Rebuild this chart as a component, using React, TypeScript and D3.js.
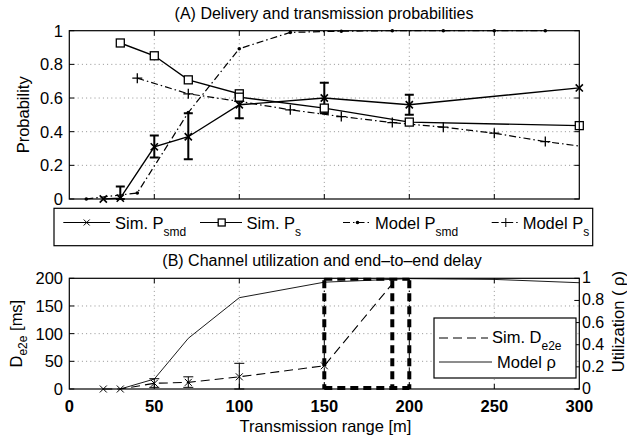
import React from "react";
import * as d3 from "d3";

// ---------- data ----------
const xTicks = [0, 50, 100, 150, 200, 250, 300];
const xGrid = [50, 100, 150, 200, 250];
const probTicks = [0, 0.2, 0.4, 0.6, 0.8, 1];
const delayTicks = [0, 50, 100, 150, 200];
const utilTicks = [0, 0.2, 0.4, 0.6, 0.8, 1];

// Panel A
const simPsmdX = [20, 30, 50, 70, 100, 150, 200, 300];
const simPsmd = [0, 0.005, 0.31, 0.37, 0.56, 0.6, 0.56, 0.66];
const simPsmdLo = [NaN, 0, 0.246, 0.236, 0.48, 0.51, 0.5, NaN];
const simPsmdHi = [NaN, 0.075, 0.377, 0.51, 0.625, 0.69, 0.62, NaN];

const simPsX = [30, 50, 70, 100, 100, 150, 200, 300];
const simPs = [0.927, 0.851, 0.708, 0.625, 0.605, 0.54, 0.457, 0.436];

const modelPsmdX = [10, 40, 70, 100, 130, 160, 190, 220, 250, 280];
const modelPsmd = [0, 0.036, 0.514, 0.893, 0.99, 0.997, 1, 1, 1, 1];

const modelPsX = [40, 70, 100, 130, 160, 190, 220, 250, 280, 300];
const modelPs = [0.718, 0.625, 0.58, 0.53, 0.49, 0.454, 0.427, 0.391, 0.341, 0.315];

// Panel B
const simDX = [20, 30, 50, 70, 100, 150, 190];
const simD = [0, 0, 10.3, 12, 22, 42, 190];
const simDLo = [NaN, NaN, 3, 3, 0, NaN, NaN];
const simDHi = [NaN, NaN, 18.6, 22, 46.4, NaN, NaN];

const boxX = [150, 190, 200];
const boxRange = [0, 200];

const rhoX = [30, 50, 70, 100, 150, 200, 250, 300];
const rho = [0, 0.09, 0.458, 0.825, 0.965, 0.997, 0.99, 0.96];

// ---------- layout ----------
const W = 627, H = 436;
const L = 69.3, R = 579.3;
const A_T = 30.7, A_B = 199;
const B_T = 278.3, B_B = 389;
const FONT = "'Liberation Sans', Arial, Helvetica, sans-serif";

const x = d3.scaleLinear().domain([0, 300]).range([L, R]);
const yA = d3.scaleLinear().domain([0, 1]).range([A_B, A_T]);
const yB = d3.scaleLinear().domain([0, 200]).range([B_B, B_T]);
const yR = d3.scaleLinear().domain([0, 1]).range([B_B, B_T]);

const GRID = { stroke: "#777", strokeWidth: 0.8, strokeDasharray: "1 3.2" };
const DASHDOT = "7 3 1.5 3";

function XMark({ cx, cy, s = 3.6, w = 1.2 }: any) {
  return (
    <path d={`M${cx - s},${cy - s}L${cx + s},${cy + s}M${cx - s},${cy + s}L${cx + s},${cy - s}`} stroke="#000" strokeWidth={w} fill="none" />
  );
}
function Square({ cx, cy, s = 4 }: any) {
  return <rect x={cx - s} y={cy - s} width={2 * s} height={2 * s} fill="#fff" stroke="#000" strokeWidth={1.3} />;
}
function Plus({ cx, cy, s = 5, w = 1.3 }: any) {
  return <path d={`M${cx - s},${cy}L${cx + s},${cy}M${cx},${cy - s}L${cx},${cy + s}`} stroke="#000" strokeWidth={w} fill="none" />;
}
function Dot({ cx, cy }: any) {
  return <circle cx={cx} cy={cy} r={1.8} fill="#000" />;
}

function ErrBars({ xs, lo, hi, ys, w, cap }: any) {
  return (
    <g stroke="#000" strokeWidth={w} fill="none">
      {xs.map((xv: number, i: number) => {
        if (isNaN(lo[i]) || isNaN(hi[i])) return null;
        const px = x(xv);
        const y1 = ys(lo[i]);
        const y2 = ys(hi[i]);
        return (
          <path key={i} d={`M${px},${y1}L${px},${y2}M${px - cap},${y1}L${px + cap},${y1}M${px - cap},${y2}L${px + cap},${y2}`} />
        );
      })}
    </g>
  );
}

export default function App() {
  const lineA = (xs: number[], ys: number[]) =>
    d3.line<number>().x((_, i) => x(xs[i])).y((v) => yA(v))(ys) as string;
  const lineB = (xs: number[], ys: number[], sc: any) =>
    d3.line<number>().x((_, i) => x(xs[i])).y((v) => sc(v))(ys) as string;

  const tickLen = 5;

  const frame = (T: number, B: number) => (
    <rect x={L} y={T} width={R - L} height={B - T} fill="none" stroke="#000" strokeWidth={1.2} />
  );

  return (
    <svg width={W} height={H} style={{ position: "absolute", left: 0, top: 0, background: "#fff" }} fontFamily={FONT}>
      <defs>
        <clipPath id="clipA"><rect x={L} y={A_T - 3} width={R - L} height={A_B - A_T + 6} /></clipPath>
        <clipPath id="clipB"><rect x={L - 3} y={B_T - 3} width={R - L + 6} height={B_B - B_T + 6} /></clipPath>
      </defs>
      <rect x={0} y={0} width={W} height={H} fill="#fff" />

      {/* ================= PANEL A ================= */}
      <text x={324} y={19} fontSize={16} textAnchor="middle">(A) Delivery and transmission probabilities</text>
      {xGrid.map((t) => <line key={"ga" + t} x1={x(t)} x2={x(t)} y1={A_T} y2={A_B} {...GRID} />)}
      {probTicks.slice(1, -1).map((t) => <line key={"gya" + t} x1={L} x2={R} y1={yA(t)} y2={yA(t)} {...GRID} />)}
      <g stroke="#000" strokeWidth={1}>
        {xGrid.map((t) => (
          <g key={"ta" + t}>
            <line x1={x(t)} x2={x(t)} y1={A_T} y2={A_T + tickLen} />
            <line x1={x(t)} x2={x(t)} y1={A_B} y2={A_B - tickLen} />
          </g>
        ))}
        {probTicks.map((t) => (
          <g key={"tya" + t}>
            <line x1={L} x2={L + tickLen} y1={yA(t)} y2={yA(t)} />
            <line x1={R} x2={R - tickLen} y1={yA(t)} y2={yA(t)} />
          </g>
        ))}
      </g>
      {probTicks.map((t) => (
        <text key={"la" + t} x={63} y={yA(t) + 6} fontSize={16.5} textAnchor="end">{d3.format("~g")(t)}</text>
      ))}
      <text transform={`translate(29,${(A_T + A_B) / 2}) rotate(-90)`} fontSize={16.5} textAnchor="middle">Probability</text>

      <g clipPath="url(#clipA)" fill="none" stroke="#000">
        <path d={lineA(modelPsmdX, modelPsmd)} strokeWidth={1.2} strokeDasharray={DASHDOT} />
        <path d={lineA(modelPsX, modelPs)} strokeWidth={1.2} strokeDasharray={DASHDOT} />
        <path d={lineA(simPsX, simPs)} strokeWidth={1.4} />
        <path d={lineA(simPsmdX, simPsmd)} strokeWidth={1.4} />
      </g>
      <ErrBars xs={simPsmdX} lo={simPsmdLo} hi={simPsmdHi} ys={yA} w={2} cap={4.5} />
      {modelPsmdX.map((xv, i) => <Dot key={"md" + i} cx={x(xv)} cy={yA(modelPsmd[i])} />)}
      {modelPsX.map((xv, i) => (xv < 300 ? <Plus key={"mp" + i} cx={x(xv)} cy={yA(modelPs[i])} /> : null))}
      {simPsX.map((xv, i) => <Square key={"sq" + i} cx={x(xv)} cy={yA(simPs[i])} />)}
      {simPsmdX.map((xv, i) => <XMark key={"xm" + i} cx={x(xv)} cy={yA(simPsmd[i])} w={1.6} />)}
      {frame(A_T, A_B)}

      {/* legend A */}
      <rect x={54} y={208.3} width={538.7} height={37.4} fill="#fff" stroke="#000" strokeWidth={1.2} />
      <g stroke="#000" strokeWidth={1} fill="none">
        <line x1={63.3} x2={110} y1={222.5} y2={222.5} />
        <line x1={200} x2={242} y1={222.5} y2={222.5} />
        <line x1={343} x2={372} y1={222.5} y2={222.5} strokeDasharray={DASHDOT} />
        <line x1={491.7} x2={520} y1={222.5} y2={222.5} strokeDasharray={DASHDOT} />
      </g>
      <XMark cx={86.7} cy={222.5} s={3} w={1} />
      <Square cx={221.7} cy={222.5} s={3.5} />
      <Dot cx={357.5} cy={222.5} />
      <Plus cx={505.8} cy={222.5} s={4.5} w={1} />
      <g fontSize={16.5}>
        <text x={115} y={228.5}>Sim. P<tspan fontSize={12} dy={7}>smd</tspan></text>
        <text x={246.5} y={228.5}>Sim. P<tspan fontSize={12} dy={7}>s</tspan></text>
        <text x={375} y={228.5}>Model P<tspan fontSize={12} dy={7}>smd</tspan></text>
        <text x={522.7} y={228.5}>Model P<tspan fontSize={12} dy={7}>s</tspan></text>
      </g>

      {/* ================= PANEL B ================= */}
      <text x={322} y={266} fontSize={16} textAnchor="middle">(B) Channel utilization and end–to–end delay</text>
      {xGrid.map((t) => <line key={"gb" + t} x1={x(t)} x2={x(t)} y1={B_T} y2={B_B} {...GRID} />)}
      {delayTicks.slice(1, -1).map((t) => <line key={"gyb" + t} x1={L} x2={R} y1={yB(t)} y2={yB(t)} {...GRID} />)}
      <g stroke="#000" strokeWidth={1}>
        {xGrid.map((t) => (
          <g key={"tb" + t}>
            <line x1={x(t)} x2={x(t)} y1={B_T} y2={B_T + tickLen} />
            <line x1={x(t)} x2={x(t)} y1={B_B} y2={B_B - tickLen} />
          </g>
        ))}
        {delayTicks.map((t) => <line key={"tyb" + t} x1={L} x2={L + tickLen} y1={yB(t)} y2={yB(t)} />)}
        {utilTicks.map((t) => <line key={"tyr" + t} x1={R} x2={R - tickLen} y1={yR(t)} y2={yR(t)} />)}
      </g>
      {delayTicks.map((t) => (
        <text key={"lb" + t} x={63} y={yB(t) + 6} fontSize={16.5} textAnchor="end">{t}</text>
      ))}
      {utilTicks.map((t) => (
        <text key={"lr" + t} x={582} y={yR(t) + 5} fontSize={16} textAnchor="start">{d3.format("~g")(t)}</text>
      ))}
      {xTicks.map((t) => (
        <text key={"lx" + t} x={x(t)} y={412} fontSize={16.5} fontWeight="bold" textAnchor="middle">{t}</text>
      ))}
      <text x={325.5} y={432} fontSize={16.5} textAnchor="middle">Transmission range [m]</text>
      <text transform={`translate(22,${(B_T + B_B) / 2}) rotate(-90)`} fontSize={16.5} textAnchor="middle">
        D<tspan fontSize={12} dy={5}>e2e</tspan><tspan dy={-5}> [ms]</tspan>
      </text>
      <text transform={`translate(624,${(B_T + B_B) / 2 - 12}) rotate(-90)`} fontSize={16.5} textAnchor="middle">Utilization ( ρ)</text>

      <g clipPath="url(#clipB)" fill="none" stroke="#000">
        <path d={lineB(rhoX, rho, yR)} strokeWidth={0.9} />
        <path d={lineB(simDX, simD, yB)} strokeWidth={1.1} strokeDasharray="9 5" />
        {[150, 200].map((b) => (
          <line key={"tv" + b} x1={x(b)} x2={x(b)} y1={yB(boxRange[0])} y2={yB(boxRange[1])} strokeWidth={1} strokeDasharray={DASHDOT} />
        ))}
        {boxX.map((b) => (
          <line key={"bv" + b} x1={x(b)} x2={x(b)} y1={yB(boxRange[1]) + 2} y2={yB(boxRange[0])} strokeWidth={4} strokeDasharray="8 5" />
        ))}
        <line x1={x(boxX[0])} x2={x(boxX[2])} y1={yB(boxRange[0]) - 1} y2={yB(boxRange[0]) - 1} strokeWidth={4} strokeDasharray="8 5" />
        <line x1={x(boxX[0])} x2={x(boxX[2])} y1={yB(boxRange[1]) + 1} y2={yB(boxRange[1]) + 1} strokeWidth={3} strokeDasharray="8 5" />
      </g>
      <ErrBars xs={simDX} lo={simDLo} hi={simDHi} ys={yB} w={1} cap={5} />
      {simDX.slice(0, 6).map((xv, i) => <XMark key={"dx" + i} cx={x(xv)} cy={yB(simD[i])} s={3.5} w={1} />)}
      {frame(B_T, B_B)}

      {/* legend B */}
      <rect x={434} y={318} width={142} height={60} fill="#fff" stroke="#000" strokeWidth={1.2} />
      <line x1={439} x2={488} y1={338} y2={338} stroke="#000" strokeWidth={1.1} strokeDasharray="9 5" />
      <line x1={439} x2={492} y1={362} y2={362} stroke="#000" strokeWidth={0.9} />
      <g fontSize={16.5}>
        <text x={492} y={343}>Sim. D<tspan fontSize={12} dy={7}>e2e</tspan></text>
        <text x={497} y={368}>Model ρ</text>
      </g>
    </svg>
  );
}
